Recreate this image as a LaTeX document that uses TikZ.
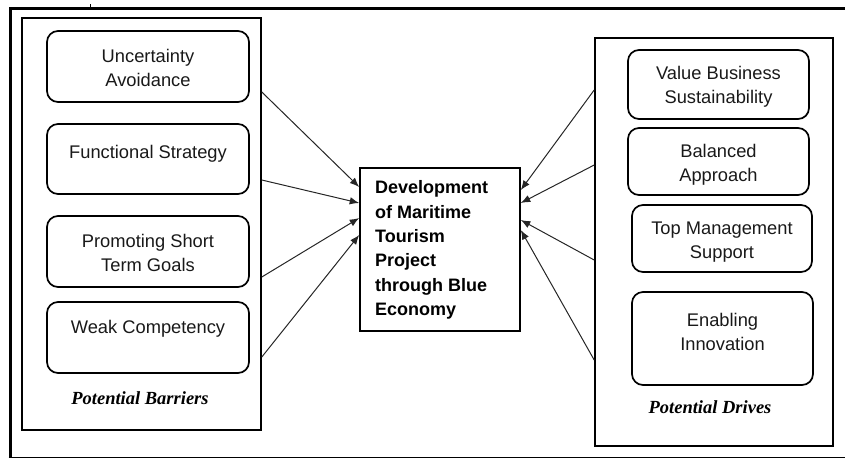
\documentclass[tikz,border=0pt]{standalone}
\usepackage{fontspec}
\setmainfont{Liberation Sans}
\newfontfamily\serifit{Liberation Serif}
\usetikzlibrary{arrows.meta}
\tikzset{
  container/.style={draw, line width=1.6pt, inner sep=0pt},
  factor/.style={draw, line width=1.7pt, rounded corners=11pt, inner sep=0pt},
  ftext/.style={align=center, inner sep=0pt, text=black!90, font=\fontsize{18.3}{24}\selectfont},
  ctext/.style={align=left, inner sep=0pt, font=\bfseries\fontsize{18}{24.4}\selectfont},
  grouplabel/.style={inner sep=0pt, font=\serifit\bfseries\itshape\fontsize{18.5}{22}\selectfont},
  arr/.style={line width=1pt, draw=black!85, -{Latex[length=9.5pt,width=7.5pt]}}
}
\begin{document}
\begin{tikzpicture}[x=1pt,y=-1pt]
\useasboundingbox (0,0) rectangle (845,459);
% outer frame
\draw[line width=3pt] (845,8.5) -- (10,8.5) -- (10,458);
\draw[line width=1.2pt] (8.5,457.6) -- (845,457.6);
\draw[line width=0.8pt] (90,4) -- (90,8);

% containers
\node[container, minimum width=239pt, minimum height=412pt] (lb) at (141.5,224) {};
\node[container, minimum width=238pt, minimum height=408pt] (rb) at (714,242) {};

% left factors
\node[factor, minimum width=202pt, minimum height=71pt] (l1) at (148,66.5) {};
\node[factor, minimum width=202pt, minimum height=70pt] (l2) at (148,159) {};
\node[factor, minimum width=202pt, minimum height=71pt] (l3) at (148,251.5) {};
\node[factor, minimum width=202pt, minimum height=71pt] (l4) at (148,337.5) {};
\node[ftext] (l1t) at (148,68) {Uncertainty\\Avoidance};
\node[ftext] (l2t) at (148,154) {Functional Strategy};
\node[ftext] (l3t) at (148,252.5) {Promoting Short\\Term Goals};
\node[ftext] (l4t) at (148,329) {Weak Competency};
\node[grouplabel] (lbl) at (140,398) {Potential Barriers};

% right factors
\node[factor, minimum width=181pt, minimum height=69pt] (r1) at (718.5,84.5) {};
\node[factor, minimum width=181pt, minimum height=67pt] (r2) at (718.5,161.5) {};
\node[factor, minimum width=180pt, minimum height=67pt] (r3) at (722,238.5) {};
\node[factor, minimum width=181pt, minimum height=93pt] (r4) at (722.5,338.5) {};
\node[ftext] (r1t) at (718.5,87) {Value Business\\Sustainability};
\node[ftext] (r2t) at (718.5,165) {Balanced\\Approach};
\node[ftext] (r3t) at (722,242.5) {Top Management\\Support};
\node[ftext] (r4t) at (722.5,332) {Enabling\\Innovation};
\node[grouplabel] (rbl) at (710,407) {Potential Drives};

% center
\node[container, minimum width=160pt, minimum height=163pt] (cb) at (440,249.5) {};
\node[ctext, anchor=west] (cbt) at (375,250) {Development\\of Maritime\\Tourism\\Project\\through Blue\\Economy};

% arrows left
\draw[arr] (lb.east |- 0,92) -- (cb.west |- 0,187);
\draw[arr] (lb.east |- 0,180) -- (cb.west |- 0,203);
\draw[arr] (lb.east |- 0,277) -- (cb.west |- 0,218);
\draw[arr] (lb.east |- 0,357) -- (cb.west |- 0,235);
% arrows right
\draw[arr] (rb.west |- 0,90) -- (cb.east |- 0,190);
\draw[arr] (rb.west |- 0,165) -- (cb.east |- 0,203);
\draw[arr] (rb.west |- 0,260) -- (cb.east |- 0,220);
\draw[arr] (rb.west |- 0,360) -- (cb.east |- 0,230);
\end{tikzpicture}
\end{document}
